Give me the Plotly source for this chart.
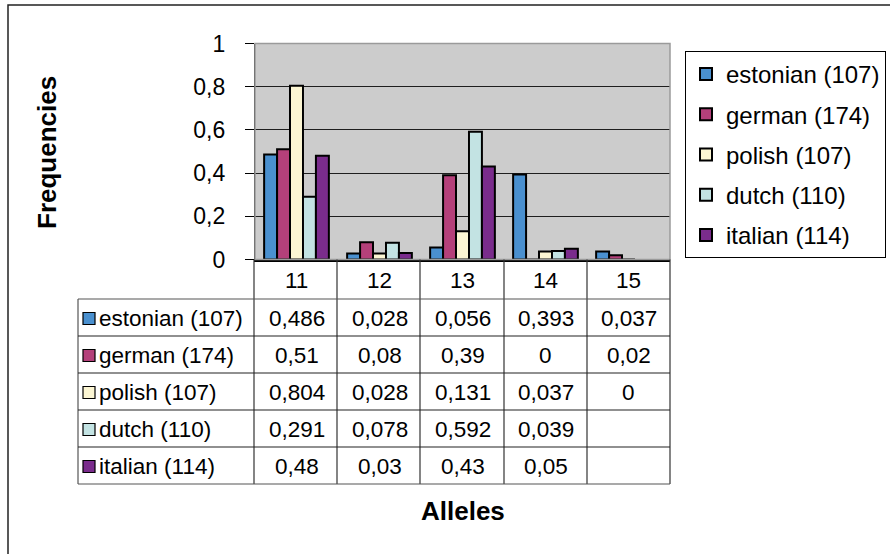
import plotly.graph_objects as go

# ---- data ----
categories = ["11", "12", "13", "14", "15"]
series_names = ["estonian (107)", "german (174)", "polish (107)", "dutch (110)", "italian (114)"]
estonian = [0.486, 0.028, 0.056, 0.393, 0.037]
german = [0.51, 0.08, 0.39, 0, 0.02]
polish = [0.804, 0.028, 0.131, 0.037, 0]
dutch = [0.291, 0.078, 0.592, 0.039, None]
italian = [0.48, 0.03, 0.43, 0.05, None]
series_values = [estonian, german, polish, dutch, italian]
y_tickvals = [0, 0.2, 0.4, 0.6, 0.8, 1]
y_ticktext = ["0", "0,2", "0,4", "0,6", "0,8", "1"]

colors = ["#4A90CF", "#B4407A", "#FCF6D3", "#C3E3E3", "#7A2C8C"]
FONT = "Liberation Sans, Arial, sans-serif"
W, H = 890, 554


def px(x):
    return x / W


def py(y):
    return 1 - y / H


fig = go.Figure()
for i, (name, vals) in enumerate(zip(series_names, series_values)):
    fig.add_trace(go.Bar(
        x=categories, y=vals, name=name, legendgroup=name,
        marker=dict(color=colors[i], line=dict(color="black", width=2)),
    ))

# ---- table geometry ----
col_edges = [254, 337, 420, 504, 587, 670]
row_lines = [299, 336, 373, 410, 447, 484]
label_left = 78

shapes = []
# outer chart frame
shapes.append(dict(type="rect", xref="paper", yref="paper",
                   x0=px(8), x1=px(905), y0=py(570), y1=py(5),
                   line=dict(color="#222", width=1.5)))
# plot area border (gray)
shapes.append(dict(type="rect", xref="paper", yref="paper",
                   x0=px(255), x1=px(670), y0=py(259.5), y1=py(43.5),
                   line=dict(color="#9a9a9a", width=1.5), layer="above"))
# vertical table lines
shapes.append(dict(type="line", xref="paper", yref="paper",
                   x0=px(label_left), x1=px(label_left), y0=py(row_lines[0]), y1=py(row_lines[-1]),
                   line=dict(color="#555", width=1.2)))
for xe in col_edges:
    shapes.append(dict(type="line", xref="paper", yref="paper",
                       x0=px(xe), x1=px(xe), y0=py(259.5), y1=py(row_lines[-1]),
                       line=dict(color="#333", width=1.2)))
# horizontal table lines
for k, yl in enumerate(row_lines):
    shapes.append(dict(type="line", xref="paper", yref="paper",
                       x0=px(label_left), x1=px(670), y0=py(yl), y1=py(yl),
                       line=dict(color="#222" if 0 < k < len(row_lines) - 1 else "#555", width=1.2)))

TABLE_FONT = dict(size=22.5, family=FONT, color="black")
annotations = []
# header row (category labels)
for ci, c in enumerate(categories):
    annotations.append(dict(x=ci, xref="x", y=py(280), yref="paper", text=c,
                            xanchor="center", yanchor="middle",
                            showarrow=False, font=TABLE_FONT))
# rows
for r, (name, vals) in enumerate(zip(series_names, series_values)):
    yc = (row_lines[r] + row_lines[r + 1]) / 2
    shapes.append(dict(type="rect", xref="paper", yref="paper",
                       x0=px(83), x1=px(95), y0=py(yc + 7), y1=py(yc - 5),
                       fillcolor=colors[r], line=dict(color="black", width=1.2)))
    annotations.append(dict(x=px(97), xref="paper", y=py(yc + 1), yref="paper", text=name,
                            xanchor="left", yanchor="middle", showarrow=False,
                            font=TABLE_FONT))
    for ci, v in enumerate(vals):
        if v is None:
            continue
        annotations.append(dict(x=ci, xref="x", y=py(yc + 1), yref="paper",
                                text=f"{v:g}".replace(".", ","), showarrow=False,
                                xanchor="center", yanchor="middle", font=TABLE_FONT))

annotations.append(dict(x=px(47), y=py(153), xref="paper", yref="paper", text="<b>Frequencies</b>",
                        xanchor="center", yanchor="middle",
                        textangle=-90, showarrow=False, font=dict(size=26, family=FONT, color="black")))
annotations.append(dict(x=px(463), y=py(511), xref="paper", yref="paper", text="<b>Alleles</b>",
                        xanchor="center", yanchor="middle",
                        showarrow=False, font=dict(size=26, family=FONT, color="black")))

fig.update_layout(
    width=W, height=H,
    margin=dict(l=0, r=0, t=0, b=0, autoexpand=False),
    paper_bgcolor="white",
    plot_bgcolor="#CCCCCC",
    font=dict(family=FONT, size=21, color="black"),
    barmode="group",
    bargap=0.22,
    bargroupgap=0,
    showlegend=True,
    legend=dict(x=px(685), y=py(51), xanchor="left", yanchor="top",
                bordercolor="black", borderwidth=1, bgcolor="white",
                font=dict(size=24, family=FONT, color="black"),
                traceorder="grouped", tracegroupgap=6, itemwidth=30),
    xaxis=dict(domain=[px(255), px(670)], type="category", range=[-0.5, 4.5],
               showticklabels=False, ticks="", showline=True, linecolor="black",
               linewidth=1.5, showgrid=False, fixedrange=True, automargin=False),
    yaxis=dict(domain=[py(259.5), py(43.5)], range=[0, 1],
               tickvals=y_tickvals, ticktext=y_ticktext,
               ticks="outside", ticklen=9, tickcolor="black", tickwidth=1.2,
               ticklabelstandoff=15,
               showline=True, linecolor="black", linewidth=1.2,
               showgrid=True, gridcolor="#1e1e1e", gridwidth=1.2,
               zeroline=False, tickfont=dict(size=23, family=FONT, color="black"),
               fixedrange=True, automargin=False),
    shapes=shapes,
    annotations=annotations,
)

fig.write_html("out.html", config={"displayModeBar": False},
               post_script="document.body.style.margin='0';")
